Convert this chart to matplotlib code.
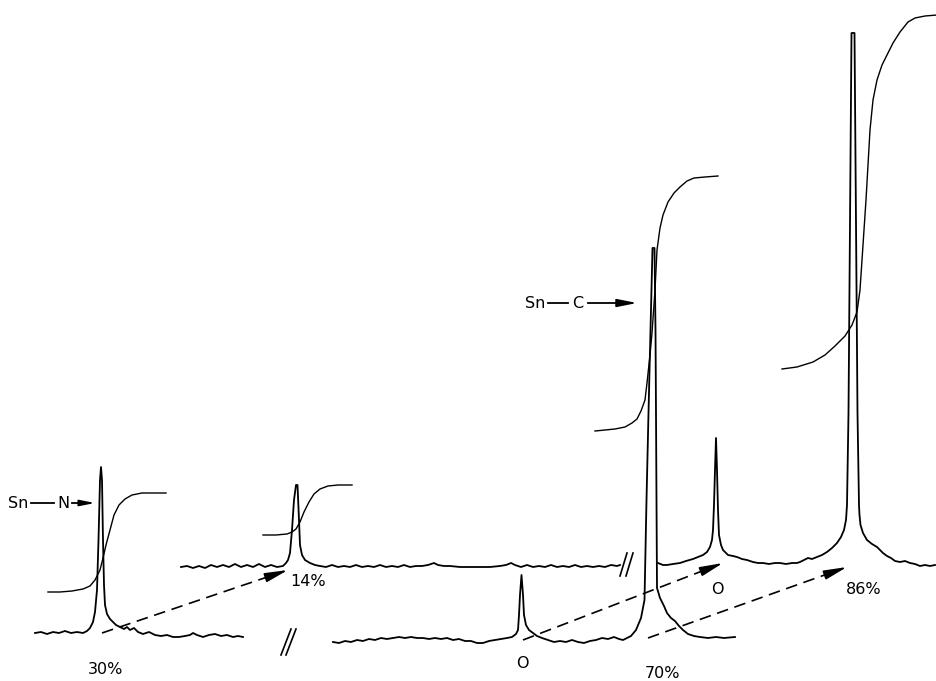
import matplotlib
matplotlib.use("Agg")
import matplotlib.pyplot as plt

# traces, in image pixels (x right, y down)
SPEC_30 = [(35,633),(41,632),(47,634),(53,632),(59,633),(65,631),(71,633),(77,632),(83,633),
           (87,631),(90,628),(93,622),(95,612),(97,590),(98.5,540),(100,480),(101,467),(102,480),
           (103,540),(104,585),(105,605),(107,614),(110,619),(113,622),(116,625),(120,627),
           (124,629),(127,627),(130,630),(134,628),(138,632),(143,634),(149,632),(155,635),
           (161,636),(167,635),(173,637),(179,637),(185,636),(190,635),(193,633),(197,635),
           (203,637),(209,635),(215,634),(221,636),(227,635),(233,637),(238,636),(243,637)]
INT_30 = [(48,592),(60,592),(72,591),(83,589),(90,586),(95,580),(100,570),(103,558),(106,545),
          (110,530),(114,515),(119,505),(125,499),(132,495),(142,493),(155,493),(166,493)]

SPEC_14 = [(181,567),(187,566),(193,568),(199,566),(205,568),(211,565),(217,567),(223,565),
           (229,567),(235,564),(241,567),(247,565),(253,567),(259,564),(265,567),(271,565),
           (277,567),(283,566),(286,563),(288,560),(290,553),(292,530),(294,500),(296,485),
           (297.5,485),(299,520),(300,545),(302,555),(305,560),(310,563),(315,565),(320,566),
           (326,567),(332,565),(338,567),(344,566),(350,567),(356,565),(362,567),(368,566),
           (374,567),(380,565),(386,567),(392,566),(398,567),(404,565),(410,567),(416,566),
           (422,566),(428,565),(434,563),(438,565),(444,566),(450,566),(460,567),(470,567),
           (480,567),(490,567),(500,566),(506,565),(511,563),(515,565),(521,567),(527,565),
           (533,567),(539,566),(545,567),(551,565),(557,567),(563,566),(569,567),(575,565),
           (581,567),(587,566),(593,567),(599,566),(605,567),(611,565),(617,566),(620,565)]
INT_14 = [(263,535),(276,535),(287,534),(292,532),(296,529),(300,522),(304,512),(309,502),
          (314,494),(320,489),(328,486),(338,485),(352,485)]

SPEC_70 = [(333,642),(339,643),(345,641),(351,642),(357,640),(363,641),(369,639),(375,640),
           (381,638),(387,639),(393,638),(399,637),(405,638),(411,637),(417,638),(423,638),
           (429,639),(435,638),(441,639),(447,638),(453,640),(459,639),(465,641),(471,641),
           (477,643),(483,643),(489,641),(495,640),(501,639),(507,638),(512,637),(516,634),
           (518,630),(519,615),(520,595),(521.5,575),(523,595),(524,615),(526,625),(529,630),
           (533,633),(537,636),(542,638),(548,640),(554,642),(560,641),(566,642),(572,640),
           (578,642),(584,643),(590,641),(596,640),(602,638),(608,639),(614,637),(619,639),
           (623,640),(627,638),(631,636),(636,630),(641,618),(644.5,600),(646.5,500),(648.5,413),
           (650.5,330),(652.5,248),(654.5,248),(655.5,330),(656,413),(656.5,500),(657,588),
           (660,598),(664,606),(667,613),(671,618),(675,621),(679,626),(683,630),(688,634),
           (694,636),(700,637),(708,638),(716,637),(724,638),(735,637)]
INT_70 = [(595,431),(605,430),(615,429),(625,427),(632,423),(637,419),(641,411),(645,400),
          (647,383),(650,355),(652,333),(655,290),(657,250),(660,228),(663,215),(668,202),
          (674,193),(680,187),(687,181),(694,178),(705,177),(718,176)]

SPEC_86 = [(658,563),(663,565),(667,565),(673,564),(680,563),(686,561),(693,559),(698,557),
           (703,555),(707,552),(710,547),(712,540),(713,530),(714,505),(715,470),(716,438),
           (717,470),(718,510),(719,535),(721,545),(723,550),(726,553),(728,555),(733,556),
           (737,557),(742,559),(747,560),(753,562),(758,563),(763,563),(769,564),(775,563),
           (780,563),(786,564),(792,563),(797,563),(800,562),(804,560),(808,558),(812,559),
           (817,557),(822,555),(827,552),(832,548),(837,543),(841,537),(844,530),(846,520),
           (847,505),(848.5,413),(851.5,33),(854.5,33),(857.5,413),(859,505),(859.5,515),
           (860.5,525),(863,533),(867,540),(872,544),(877,547),(880,550),(883,553),(887,556),
           (891,558),(895,561),(900,562),(905,561),(910,563),(915,564),(920,566),(925,565),
           (930,566),(935,565)]
INT_86 = [(782,369),(797,367),(813,362),(825,355),(835,346),(845,336),(852,325),(857,312),
          (860,290),(862,260),(864,230),(866,200),(868,165),(870,130),(873,100),(877,80),
          (882,65),(887,55),(893,43),(900,32),(908,22),(915,18),(925,16),(937,15)]

# dashed arrows linking the peaks: (start, tip)
LINKS = [((102,633),(288,570)), ((523,640),(723,563)), ((648,638),(847,567))]

# axis-break marks
BREAKS = [[((281,655),(291,629)), ((286,655),(296,629))],
          [((620,576),(627,553)), ((626,576),(633,553))]]

LABELS = [("30%", 106, 670), ("14%", 308, 582), ("O", 522, 664),
          ("70%", 663, 674), ("O", 717, 589), ("86%", 864, 589)]

fig = plt.figure(figsize=(9.37, 6.81), dpi=100)
ax = fig.add_axes([0, 0, 1, 1])
ax.set_xlim(0, 937); ax.set_ylim(681, 0)
ax.axis("off")

def trace(pts, lw):
    xs, ys = zip(*pts)
    ax.plot(xs, ys, color="black", lw=lw, solid_joinstyle="round")

for s in (SPEC_30, SPEC_14, SPEC_70, SPEC_86):
    trace(s, 1.3)
for s in (INT_30, INT_14, INT_70, INT_86):
    trace(s, 1.0)

def head(tip, back, size=14):
    ax.annotate("", xy=tip, xytext=back,
                arrowprops=dict(arrowstyle="-|>,head_length=1.0,head_width=0.2",
                                color="black", lw=1.2, shrinkA=0, shrinkB=0,
                                mutation_scale=size))

for (x0, y0), (x1, y1) in LINKS:
    ax.plot([x0, x1 - (x1 - x0) * 0.06], [y0, y1 - (y1 - y0) * 0.06],
            color="black", lw=1.2, dashes=(7, 4))
    head((x1, y1), (x1 - (x1 - x0) * 0.1, y1 - (y1 - y0) * 0.1))

for pair in BREAKS:
    for (x0, y0), (x1, y1) in pair:
        ax.plot([x0, x1], [y0, y1], color="black", lw=1.2)

FS = 11.5
for txt, x, y in LABELS:
    ax.text(x, y, txt, fontsize=FS, ha="center", va="center")

# Sn—N arrow
ax.text(18, 503, "Sn", fontsize=FS, ha="center", va="center")
ax.plot([31, 54], [503, 503], color="black", lw=1.3)
ax.text(63, 503, "N", fontsize=FS, ha="center", va="center")
ax.plot([72, 84], [503, 503], color="black", lw=1.3)
head((95, 503), (84, 503), size=9)

# Sn—C arrow
ax.text(535, 303, "Sn", fontsize=FS, ha="center", va="center")
ax.plot([548, 568], [303, 303], color="black", lw=1.3)
ax.text(578, 303, "C", fontsize=FS, ha="center", va="center")
ax.plot([588, 622], [303, 303], color="black", lw=1.3)
head((637, 303), (618, 303), size=12)

fig.savefig("out.png", dpi=100)
